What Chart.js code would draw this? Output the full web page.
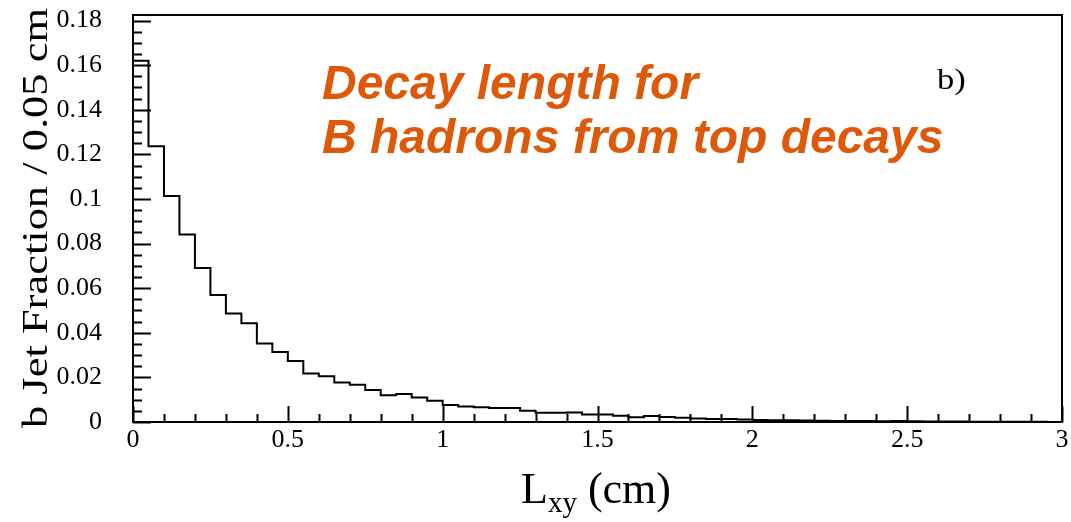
<!DOCTYPE html>
<html>
<head>
<meta charset="utf-8">
<script src="https://cdn.jsdelivr.net/npm/chart.js@4.4.1/dist/chart.umd.min.js"></script>
<style>
  html, body { margin: 0; padding: 0; background: #fff; }
  #wrap { width: 1071px; height: 522px; }
</style>
</head>
<body>
<div id="wrap"><canvas id="myChart" width="1071" height="522"></canvas></div>
<script>
// b jet fraction per 0.05 cm bin of L_xy, from 0 to 3 cm
var binWidth = 0.05
var fractions = [
  0.162, 0.1237, 0.1013, 0.0841, 0.069, 0.0569, 0.0487, 0.0443, 0.0352, 0.0314,
  0.0273, 0.0217, 0.0205, 0.0177, 0.0167, 0.0144, 0.0120, 0.0125, 0.0110, 0.0095,
  0.0076, 0.0070, 0.0066, 0.0063, 0.0063, 0.0050, 0.0042, 0.0042, 0.0043, 0.0034,
  0.0034, 0.0028, 0.0021, 0.0027, 0.0022, 0.0019, 0.0016, 0.0014, 0.0013, 0.0011,
  0.0009, 0.0008, 0.0008, 0.0007, 0.0006, 0.0005, 0.0004, 0.0004, 0.0003, 0.0004,
  0.0003, 0.0002, 0.0002, 0.0002, 0.0001, 0.0001, 0.0001, 0.0001, 0.0001, 0.0000
]
var xTickLabels = ["0", "0.5", "1", "1.5", "2", "2.5", "3"]
var yTickLabels = ["0", "0.02", "0.04", "0.06", "0.08", "0.1", "0.12", "0.14", "0.16", "0.18"]

var orange = "rgb(221, 88, 8)"
var serif = '"Liberation Serif", "Times New Roman", serif'

// one point on each bin's low edge, plus the upper edge of the last bin
var points = fractions.map(function (v, i) { return { x: i * binWidth, y: v } })
points.push({ x: fractions.length * binWidth, y: fractions[fractions.length - 1] })

// ROOT style frame with inward ticks, plus axis titles and annotation
var framePlugin = {
  id: "frame",
  afterDraw: function (chart) {
    var ctx = chart.ctx
    var a = chart.chartArea
    var xs = chart.scales.x
    var ys = chart.scales.y
    ctx.save()
    ctx.strokeStyle = "#000"
    ctx.lineWidth = 2
    ctx.strokeRect(a.left, a.top, a.right - a.left, a.bottom - a.top)

    ctx.beginPath()
    for (var i = 0; i <= 36; i++) {
      var py = Math.round(ys.getPixelForValue(i * 0.005)) + 0.5
      var len = i % 4 === 0 ? 18 : 9
      ctx.moveTo(a.left, py)
      ctx.lineTo(a.left + len, py)
    }
    for (var j = 0; j <= 30; j++) {
      var px = Math.round(xs.getPixelForValue(j * 0.1)) + 0.5
      var l2 = j % 5 === 0 ? 16 : 8
      ctx.moveTo(px, a.bottom)
      ctx.lineTo(px, a.bottom - l2)
    }
    ctx.stroke()

    // y axis title, widened a little like the original typesetting
    ctx.fillStyle = "#000"
    ctx.font = "36px " + serif
    var yTitle = "b Jet Fraction / 0.05 cm"
    var w = ctx.measureText(yTitle).width
    ctx.save()
    ctx.translate(47, 218)
    ctx.rotate(-Math.PI / 2)
    ctx.scale(420 / w, 1)
    ctx.textAlign = "center"
    ctx.textBaseline = "alphabetic"
    ctx.fillText(yTitle, 0, 0)
    ctx.restore()

    // x axis title with subscript
    ctx.textBaseline = "alphabetic"
    ctx.textAlign = "left"
    var big = "44px " + serif
    var small = "29px " + serif
    ctx.font = big
    var wL = ctx.measureText("L").width
    var wRest = ctx.measureText(" (cm)").width
    ctx.font = small
    var wSub = ctx.measureText("xy").width
    var x0 = 596 - (wL + wSub + wRest) / 2
    ctx.font = big
    ctx.fillText("L", x0, 503)
    ctx.font = small
    ctx.fillText("xy", x0 + wL, 512)
    ctx.font = big
    ctx.fillText(" (cm)", x0 + wL + wSub, 503)

    ctx.save()
    ctx.font = "30px " + serif
    ctx.translate(937, 89)
    ctx.scale(1.15, 1)
    ctx.fillText("b)", 0, 0)
    ctx.restore()

    ctx.fillStyle = orange
    ctx.font = 'italic bold 48px "Liberation Sans", Arial, sans-serif'
    ctx.fillText("Decay length for", 322, 99)
    ctx.fillText("B hadrons from top decays", 322, 153)
    ctx.restore()
  }
}

var chartField = document.querySelector("#myChart").getContext("2d")

var myChart = new Chart(chartField, {
  type: "line",
  data: {
    datasets: [{
      data: points,
      stepped: "before",
      borderColor: "#000",
      borderWidth: 2,
      pointRadius: 0,
      fill: false
    }]
  },
  options: {
    responsive: false,
    animation: false,
    devicePixelRatio: 1,
    layout: { padding: { left: 0, right: 9, top: 15, bottom: 0 } },
    plugins: { legend: { display: false }, tooltip: { enabled: false } },
    scales: {
      x: {
        type: "linear",
        min: 0,
        max: 3,
        grid: { display: false, drawTicks: false },
        border: { display: false },
        afterFit: function (s) {
          s.height = 100
          s.paddingLeft = 0
          s.paddingRight = 0
        },
        ticks: {
          stepSize: 0.5,
          autoSkip: false,
          maxRotation: 0,
          padding: 3,
          color: "#000",
          font: { family: serif, size: 26 },
          callback: function (v, i) { return xTickLabels[i] }
        }
      },
      y: {
        min: 0,
        max: 0.1825,
        grid: { display: false, drawTicks: false },
        border: { display: false },
        afterFit: function (s) {
          s.width = 133
          s.paddingTop = 0
          s.paddingBottom = 0
        },
        ticks: {
          stepSize: 0.02,
          includeBounds: false,
          autoSkip: false,
          padding: 31,
          color: "#000",
          font: { family: serif, size: 26 },
          callback: function (v, i) { return yTickLabels[i] }
        }
      }
    }
  },
  plugins: [framePlugin]
})
</script>
</body>
</html>
